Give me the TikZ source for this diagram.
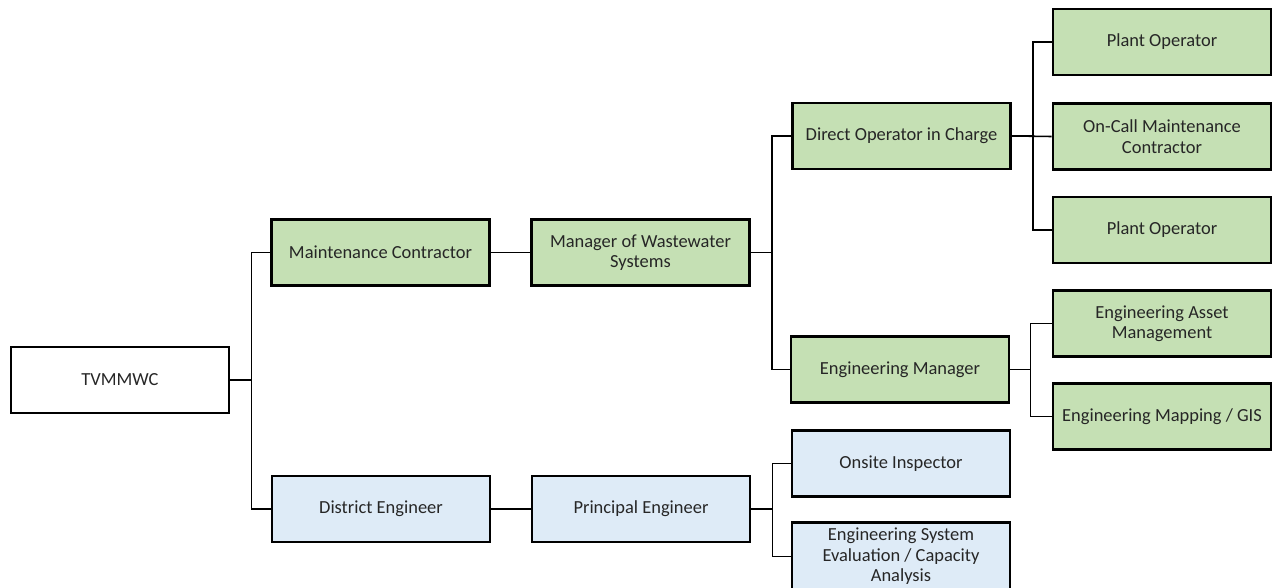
\documentclass[tikz,border=0pt]{standalone}
\usepackage{fontspec}
\setmainfont{Carlito}
\definecolor{boxgreen}{HTML}{C5E0B4}
\definecolor{boxblue}{HTML}{DEEBF7}
\tikzset{
  orgbox/.style={draw=black, line width=1.5pt, minimum width=4.36cm, minimum height=1.32cm,
    align=center, font=\fontsize{10.5}{11.6}\selectfont, text=black!85},
  greenbox/.style={orgbox, fill=boxgreen},
  bluebox/.style={orgbox, fill=boxblue},
  link/.style={line width=0.9pt}
}
\begin{document}
\begin{tikzpicture}[x=0.02cm, y=-0.02cm]
\useasboundingbox (0,0) rectangle (1272,588);

% Top of the tree
\node[orgbox] (tv) at (120,380) {TVMMWC};

% Second and third level
\node[greenbox] (mc) at (380.5,252.5) {Maintenance Contractor};
\node[greenbox] (mws) at (640.5,252.5) {Manager of Wastewater\\Systems};
\node[bluebox] (de) at (381,509) {District Engineer};
\node[bluebox] (pe) at (641,509) {Principal Engineer};

% Fourth level
\node[greenbox] (doc) at (901.5,136) {Direct Operator in Charge};
\node[greenbox] (em) at (900,369.5) {Engineering Manager};
\node[bluebox] (oi) at (901,463.5) {Onsite Inspector};
\node[bluebox] (esa) at (901,556.5) {Engineering System\\Evaluation / Capacity\\Analysis};

% Fifth level
\node[greenbox] (po1) at (1162,42) {Plant Operator};
\node[greenbox] (oc) at (1162,136.5) {On-Call Maintenance\\Contractor};
\node[greenbox] (po2) at (1162,230) {Plant Operator};
\node[greenbox] (eam) at (1162,323.5) {Engineering Asset\\Management};
\node[greenbox] (emg) at (1162,416.5) {Engineering Mapping / GIS};

% Connectors
\draw[link] (tv.east) -- ++(21,0) |- (mc.west);
\draw[link] (tv.east) -- ++(21,0) |- (de.west);
\draw[link] (mc.east) -- (mws.west);
\draw[link] (de.east) -- (pe.west);
\draw[link] (mws.east) -- ++(21,0) |- (doc.west);
\draw[link] (mws.east) -- ++(21,0) |- (em.west);
\draw[link] (pe.east) -- ++(21,0) |- (oi.west);
\draw[link] (pe.east) -- ++(21,0) |- (esa.west);
\draw[link] (doc.east) -- ++(21,0) |- (po1.west);
\draw[link] (doc.east) -- (oc.west);
\draw[link] (doc.east) -- ++(21,0) |- (po2.west);
\draw[link] (em.east) -- ++(20,0) |- (eam.west);
\draw[link] (em.east) -- ++(20,0) |- (emg.west);
\end{tikzpicture}
\end{document}
